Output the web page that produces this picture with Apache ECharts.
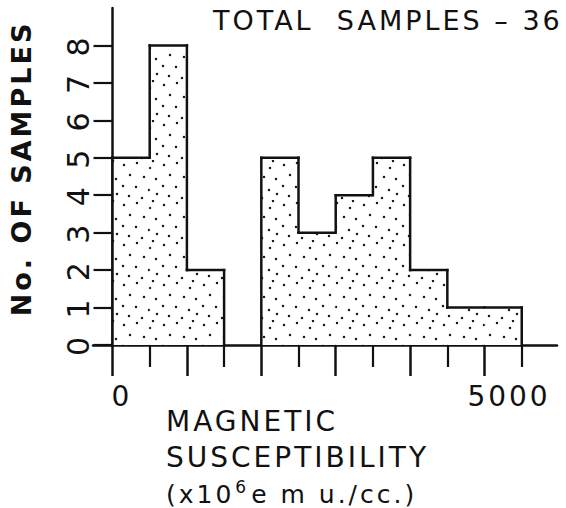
<!DOCTYPE html>
<html><head><meta charset="utf-8">
<script src="https://cdn.jsdelivr.net/npm/echarts@6/dist/echarts.min.js"></script>
<style>html,body{margin:0;padding:0;background:#fff}#c{width:566px;height:508px}#c svg text{letter-spacing:3px}</style>
</head><body><div id="c"></div>
<script>
// ---- data ----
const binStarts = [0, 500, 1000, 1500, 2000, 2500, 3000, 3500, 4000, 4500, 5000];
const binEnds   = [500, 1000, 1500, 2000, 2500, 3000, 3500, 4000, 4500, 5000, 5500];
const sampleCounts = [5, 8, 2, 0, 5, 3, 4, 5, 2, 1, 1];
const yTickValues = [0, 1, 2, 3, 4, 5, 6, 7, 8];
const xMajorTicks = [0, 1000, 2000, 3000, 4000, 5000];
const xMinorTicks = [500, 1500, 2500, 3500, 4500, 5500];
const xLabelValues = [0, 5000];
const totalText = 'TOTAL  SAMPLES – 36';
const yAxisTitle = 'No. OF SAMPLES';
const xTitleLine1 = 'MAGNETIC';
const xTitleLine2 = 'SUSCEPTIBILITY';

// ---- stipple texture ----
function makeStipple() {
  const c = document.createElement('canvas');
  c.width = 40; c.height = 40;
  const g = c.getContext('2d');
  g.fillStyle = '#fff'; g.fillRect(0, 0, 40, 40);
  g.fillStyle = '#1a1a1a';
  const dots = [[4,5],[17,3],[30,8],[10,15],[24,17],[36,19],[3,26],[16,27],[29,30],[9,36],[22,38],[37,34],[33,1]];
  dots.forEach(function (d) { g.beginPath(); g.arc(d[0], d[1], 1.25, 0, Math.PI * 2); g.fill(); });
  return c;
}
const stipple = { image: makeStipple(), repeat: 'repeat' };

const histData = sampleCounts.map(function (v, i) {
  return [binStarts[i], binEnds[i], v, i > 0 ? sampleCounts[i - 1] : 0, i === sampleCounts.length - 1 ? 1 : 0];
});

const FONT = 'DejaVu Sans';
const INK = '#111';
const chart = echarts.init(document.getElementById('c'), null, { renderer: 'svg' });
chart.setOption({
  backgroundColor: '#fff',
  animation: false,
  title: [
    { text: totalText, left: 213, top: 7, padding: 0,
      textStyle: { fontFamily: FONT, fontSize: 27, fontWeight: 'normal', color: INK } },
    { text: '{t|' + xTitleLine1 + '}\n{t|' + xTitleLine2 + '}\n{u|(x10}{s|6}{u|e m u./cc.)}',
      left: 166, top: 399, padding: 0,
      textStyle: { fontWeight: 'normal', rich: {
        t: { fontFamily: FONT, fontSize: 28, fontWeight: 'normal', color: INK, lineHeight: 36, verticalAlign: 'bottom' },
        u: { fontFamily: FONT, fontSize: 25, fontWeight: 'normal', color: INK, lineHeight: 36, verticalAlign: 'bottom' },
        s: { fontFamily: FONT, fontSize: 17, fontWeight: 'normal', color: INK, lineHeight: 36, verticalAlign: 'bottom', padding: [0, 5, 12, 13] }
      } } }
  ],
  grid: { left: 93, right: 9, top: 8, bottom: 163, containLabel: false, outerBoundsMode: 'none' },
  xAxis: [
    { type: 'value', min: -262, max: 5974, position: 'bottom',
      axisLine: { show: true, lineStyle: { color: INK, width: 2.5 } },
      axisTick: { show: true, customValues: xMajorTicks, length: 31, lineStyle: { color: INK, width: 2.5 } },
      axisLabel: { show: true, customValues: xLabelValues, margin: 37,
        formatter: function (v) { return v === 0 ? '{a|0}' : '{b|' + v + '}'; },
        rich: {
          a: { fontFamily: FONT, fontSize: 28, color: INK, padding: [0, 0, 0, 19] },
          b: { fontFamily: FONT, fontSize: 28, color: INK, padding: [0, 0, 0, 49] }
        } },
      splitLine: { show: false } },
    { type: 'value', min: -262, max: 5974, position: 'bottom',
      axisLine: { show: false },
      axisTick: { show: true, customValues: xMinorTicks, length: 22, lineStyle: { color: INK, width: 2.2 } },
      axisLabel: { show: false },
      splitLine: { show: false } }
  ],
  yAxis: {
    type: 'value', min: 0, max: 9,
    axisLine: { show: true, onZero: true, lineStyle: { color: INK, width: 2.5 } },
    axisTick: { show: true, customValues: yTickValues, length: 19, lineStyle: { color: INK, width: 2.2 } },
    axisLabel: { show: true, customValues: yTickValues, rotate: 90, margin: 0,
      fontFamily: FONT, fontSize: 30, color: INK },
    splitLine: { show: false },
    name: yAxisTitle, nameLocation: 'middle', nameRotate: 90, nameGap: 58, nameMoveOverlap: false,
    nameTextStyle: { fontFamily: FONT, fontSize: 27, fontWeight: 'bold', color: INK, padding: [0, 0, 0, 16] }
  },
  series: [{
    type: 'custom',
    xAxisIndex: 0,
    data: histData,
    renderItem: function (params, api) {
      const s = api.value(0), e = api.value(1), h = api.value(2), hp = api.value(3), last = api.value(4);
      const tl = api.coord([s, h]);
      const br = api.coord([e, 0]);
      const pv = api.coord([s, hp]);
      const st = { stroke: INK, lineWidth: 2.5, fill: null, lineCap: 'square' };
      const kids = [];
      if (h > 0) {
        kids.push({ type: 'rect', shape: { x: tl[0], y: tl[1], width: br[0] - tl[0], height: br[1] - tl[1] },
          style: { fill: stipple } });
        kids.push({ type: 'line', shape: { x1: tl[0], y1: tl[1], x2: br[0], y2: tl[1] }, style: st });
      }
      if (h !== hp) kids.push({ type: 'line', shape: { x1: tl[0], y1: pv[1], x2: tl[0], y2: tl[1] }, style: st });
      if (last && h > 0) kids.push({ type: 'line', shape: { x1: br[0], y1: tl[1], x2: br[0], y2: br[1] }, style: st });
      return { type: 'group', children: kids };
    }
  }]
});
</script>
</body></html>
